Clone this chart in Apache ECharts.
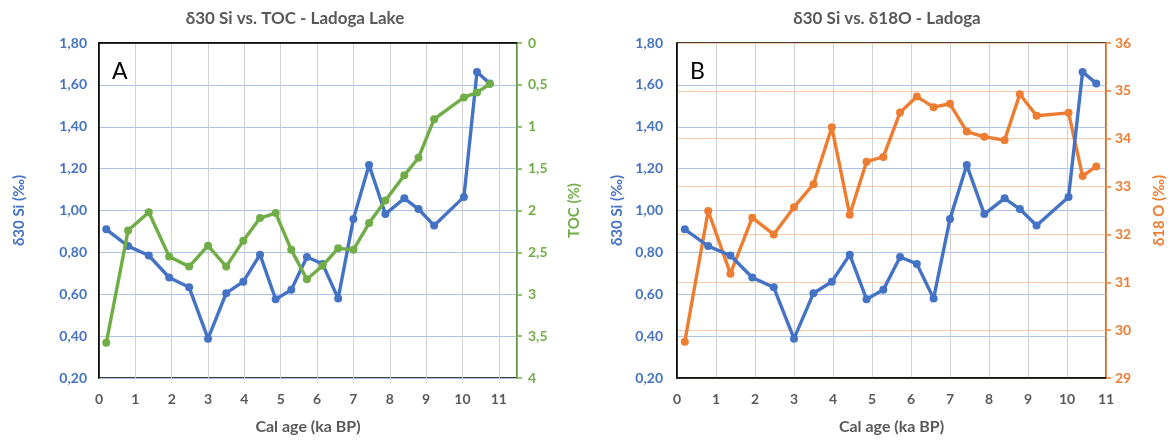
<!DOCTYPE html>
<html>
<head>
<meta charset="utf-8">
<script src="https://cdn.jsdelivr.net/npm/echarts@6/dist/echarts.min.js"></script>
<style>
  html, body { margin: 0; padding: 0; background: #fff; }
  #chart { width: 1175px; height: 440px; }
</style>
</head>
<body>
<div id="chart"></div>
<script>
// Calibrated ages of the Ladoga samples (ka BP)
const ages = [0.2, 0.8, 1.37, 1.93, 2.48, 3.0, 3.5, 3.97, 4.43, 4.86, 5.29, 5.72, 6.15, 6.58, 7.0, 7.43, 7.88, 8.4, 8.79, 9.22, 10.04, 10.4, 10.75];
// δ30 Si (‰)
const d30Si = [0.91, 0.83, 0.785, 0.68, 0.633, 0.388, 0.605, 0.66, 0.789, 0.576, 0.621, 0.778, 0.745, 0.58, 0.96, 1.217, 0.983, 1.058, 1.007, 0.928, 1.065, 1.662, 1.607];
// Total organic carbon (%)
const toc = [3.58, 2.24, 2.02, 2.55, 2.67, 2.42, 2.67, 2.36, 2.09, 2.03, 2.47, 2.82, 2.66, 2.45, 2.47, 2.15, 1.88, 1.58, 1.37, 0.91, 0.65, 0.59, 0.49];
// δ18O (‰)
const d18O = [29.76, 32.49, 31.18, 32.35, 32.0, 32.57, 33.05, 34.24, 32.41, 33.52, 33.62, 34.55, 34.88, 34.66, 34.73, 34.15, 34.04, 33.97, 34.93, 34.48, 34.54, 33.22, 33.42];

const titleA = 'δ30 Si vs. TOC - Ladoga Lake';
const titleB = 'δ30 Si vs. δ18O - Ladoga';
const xName = 'Cal age (ka BP)';
const siName = 'δ30 Si (‰)';
const tocName = 'TOC (%)';
const oName = 'δ18 O (‰)';

const BLUE = '#4472c4', GREEN = '#70ad47', ORANGE = '#ed7d31', GREY = '#595959';
const FONT = 'Lato, "Open Sans", sans-serif';

const pairs = (ys) => ages.map((a, i) => [a, ys[i]]);
const comma = (v, d) => (d === undefined ? String(v) : v.toFixed(d)).replace('.', ',');

function xAxis(gridIndex, max) {
  return {
    type: 'value', gridIndex, min: 0, max, interval: 1,
    name: xName, nameLocation: 'middle', nameGap: 41,
    nameTextStyle: { color: GREY, fontSize: 16, fontWeight: 'bold', fontFamily: FONT },
    axisLine: { show: true, lineStyle: { color: '#000', width: 1.5 } },
    axisTick: { show: false },
    axisLabel: {
      margin: 14, color: GREY, fontSize: 14, fontWeight: 'bold', fontFamily: FONT,
      formatter: (v) => Number.isInteger(v) ? String(v) : ''
    },
    splitLine: { show: true, lineStyle: { color: '#d0d0d0', width: 1 } }
  };
}

function siAxis(gridIndex, nameGap, margin) {
  return {
    type: 'value', gridIndex, position: 'left', min: 0.2, max: 1.8, interval: 0.2,
    name: siName, nameLocation: 'middle', nameRotate: 90, nameGap,
    nameTextStyle: { color: BLUE, fontSize: 15, fontWeight: 'bold', fontFamily: FONT },
    axisLine: { show: true, lineStyle: { color: '#000', width: 1.5 } },
    axisTick: { show: false },
    axisLabel: { margin, color: BLUE, fontSize: 14, fontWeight: 'bold', fontFamily: FONT, formatter: (v) => comma(v, 2) },
    splitLine: { show: true, lineStyle: { color: '#a9c4e6', width: 1.2 } }
  };
}

const option = {
  animation: false,
  backgroundColor: '#fff',
  grid: [
    { left: 99, right: 658, top: 43, bottom: 60, show: true, borderColor: '#000', borderWidth: 1.5 },
    { left: 677, right: 69, top: 43, bottom: 60, show: true, borderColor: '#000', borderWidth: 1.5 }
  ],
  xAxis: [xAxis(0, 11.5), xAxis(1, 11)],
  yAxis: [
    siAxis(0, 72, 12),
    {
      type: 'value', gridIndex: 0, position: 'right', min: 0, max: 4, interval: 0.5, inverse: true,
      name: tocName, nameLocation: 'middle', nameRotate: 90, nameGap: 50,
      nameTextStyle: { color: GREEN, fontSize: 15, fontWeight: 'bold', fontFamily: FONT },
      axisLine: { show: true, lineStyle: { color: GREEN, width: 1.5 } },
      axisTick: { show: true, length: 5, lineStyle: { color: GREEN, width: 1.5 } },
      axisLabel: { margin: 11, color: GREEN, fontSize: 14, fontWeight: 'bold', fontFamily: FONT, formatter: (v) => comma(v) },
      splitLine: { show: false }
    },
    siAxis(1, 52, 14),
    {
      type: 'value', gridIndex: 1, position: 'right', min: 29, max: 36, interval: 1,
      name: oName, nameLocation: 'middle', nameRotate: 90, nameGap: 46,
      nameTextStyle: { color: ORANGE, fontSize: 15, fontWeight: 'bold', fontFamily: FONT },
      axisLine: { show: true, lineStyle: { color: ORANGE, width: 1.5 } },
      axisTick: { show: true, length: 5, lineStyle: { color: ORANGE, width: 1.5 } },
      axisLabel: { margin: 9, color: ORANGE, fontSize: 14, fontWeight: 'bold', fontFamily: FONT },
      splitLine: { show: true, lineStyle: { color: '#f8cbad', width: 1.2 } }
    }
  ],
  series: [
    { name: 'δ30 Si', type: 'line', xAxisIndex: 0, yAxisIndex: 0, data: pairs(d30Si), color: BLUE,
      symbol: 'circle', symbolSize: 8, lineStyle: { width: 3.4 }, z: 3 },
    { name: 'TOC', type: 'line', xAxisIndex: 0, yAxisIndex: 1, data: pairs(toc), color: GREEN,
      symbol: 'circle', symbolSize: 8, lineStyle: { width: 3.4 }, z: 4 },
    { name: 'δ18O', type: 'line', xAxisIndex: 1, yAxisIndex: 3, data: pairs(d18O), color: ORANGE,
      symbol: 'circle', symbolSize: 8, lineStyle: { width: 3.4 }, z: 3 },
    { name: 'δ30 Si', type: 'line', xAxisIndex: 1, yAxisIndex: 2, data: pairs(d30Si), color: BLUE,
      symbol: 'circle', symbolSize: 8, lineStyle: { width: 3.4 }, z: 4 }
  ],
  graphic: [
    { type: 'text', x: 295, y: 10, style: { text: titleA, fill: GREY, font: 'bold 17px ' + FONT, align: 'center', textAlign: 'center' } },
    { type: 'text', x: 887, y: 10, style: { text: titleB, fill: GREY, font: 'bold 17px ' + FONT, align: 'center', textAlign: 'center' } },
    { type: 'text', x: 112, y: 60, style: { text: 'A', fill: '#000', font: '23px ' + FONT } },
    { type: 'text', x: 690, y: 60, style: { text: 'B', fill: '#000', font: '23px ' + FONT } }
  ]
};

const chart = echarts.init(document.getElementById('chart'), null, { renderer: 'canvas' });
chart.setOption(option);
</script>
</body>
</html>
